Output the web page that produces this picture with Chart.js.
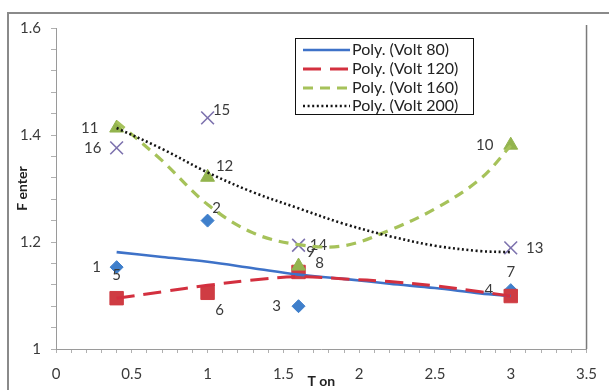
<!DOCTYPE html>
<html>
<head>
<meta charset="utf-8">
<script src="https://cdn.jsdelivr.net/npm/chart.js@4/dist/chart.umd.min.js"></script>
<style>
  html, body { margin: 0; padding: 0; background: #ffffff; }
  canvas { display: block; }
</style>
</head>
<body>
<canvas id="chart" width="609" height="390"></canvas>
<script>
// Measured runs: pulse-on time (T on) against F enter, one series per voltage
const tOn = [0.4, 1, 1.6, 3];
const volt80 = [1.153, 1.24, 1.08, 1.11];
const volt120 = [1.095, 1.105, 1.144, 1.099];
const volt160 = [1.413, 1.321, 1.155, 1.381];
const volt200 = [1.376, 1.432, 1.194, 1.189];

// Run numbers printed next to each point
const runs80 = ['1', '2', '3', '4'];
const runs120 = ['5', '6', '8', '7'];
const runs160 = ['11', '12', '9', '10'];
const runs200 = ['16', '15', '14', '13'];

// Polynomial trend curves as they run across the plot
const trendT = [0.4, 0.7, 1.0, 1.3, 1.6, 1.9, 2.2, 2.5, 2.8, 3.0];
const trend80 = [1.181, 1.172, 1.163, 1.151, 1.139, 1.131, 1.122, 1.114, 1.104, 1.099];
const trend120 = [1.095, 1.107, 1.119, 1.129, 1.135, 1.131, 1.126, 1.118, 1.107, 1.099];
const trend160 = [1.425, 1.352, 1.27, 1.217, 1.195, 1.193, 1.222, 1.262, 1.318, 1.38];
const trend200 = [1.413, 1.374, 1.330, 1.293, 1.263, 1.234, 1.211, 1.193, 1.183, 1.181];

const legendNames = ['Poly. (Volt 80)', 'Poly. (Volt 120)', 'Poly. (Volt 160)', 'Poly. (Volt 200)'];
const xTickLabels = ['0', '0.5', '1', '1.5', '2', '2.5', '3', '3.5'];
const yTickLabels = ['1', '1.2', '1.4', '1.6'];

const FONT = 'Lato, "Open Sans", sans-serif';
const TEXT = '#3a3a3a';

function pairs(xs, ys) { return xs.map((x, i) => ({ x: x, y: ys[i] })); }

function trendSet(name, ys, color, dash, width) {
  return {
    label: name, data: pairs(trendT, ys), showLine: true, pointRadius: 0,
    borderColor: color, backgroundColor: color, borderDash: dash, borderWidth: width,
    tension: 0.35, fill: false, isTrend: true
  };
}
function pointSet(name, ys, ids, style, radius, fill, stroke, bw) {
  return {
    label: name, data: pairs(tOn, ys), showLine: false, runIds: ids,
    pointStyle: style, pointRadius: radius, pointHoverRadius: radius,
    backgroundColor: fill, borderColor: stroke, borderWidth: bw
  };
}

// Trend curves first so they are painted above the markers
const datasets = [
  trendSet(legendNames[3], trend200, '#141414', [2, 2.6], 2.6),
  trendSet(legendNames[2], trend160, '#a6c25a', [10, 7], 3.2),
  trendSet(legendNames[1], trend120, '#d3303f', [18, 9], 3),
  trendSet(legendNames[0], trend80, '#3e72c8', [], 2.6),
  pointSet('Volt 200', volt200, runs200, 'crossRot', 9, '#7d72ae', '#7d72ae', 1.6),
  pointSet('Volt 160', volt160, runs160, 'triangle', 8, '#93b44e', '#93b44e', 1),
  pointSet('Volt 120', volt120, runs120, 'rect', 9.5, '#cf3c43', '#cf3c43', 1),
  pointSet('Volt 80', volt80, runs80, 'rectRot', 6.5, '#3f7fcb', '#3f7fcb', 1)
];

// Where each run number sits relative to its marker
const runLabelOffsets = {
  '1': [-20, 0], '2': [9, -12], '3': [-22, 0], '4': [-22, 0],
  '5': [0, -23], '6': [12, 17], '7': [0, -24], '8': [21, -9],
  '9': [12, -14], '10': [-26, 0], '11': [-27, 0], '12': [17, -11],
  '13': [24, 0], '14': [20, 0], '15': [14, -8], '16': [-24, 0]
};

const decorations = {
  id: 'decorations',
  beforeDraw(chart) {
    const ctx = chart.ctx;
    ctx.save();
    ctx.fillStyle = '#ffffff';
    ctx.fillRect(0, 0, chart.width, chart.height);
    ctx.restore();
  },
  afterDatasetDraw(chart, args) {
    const ds = chart.data.datasets[args.index];
    if (!ds.runIds) return;
    const ctx = chart.ctx;
    ctx.save();
    ctx.font = '15px ' + FONT;
    ctx.fillStyle = TEXT;
    ctx.textAlign = 'center';
    ctx.textBaseline = 'middle';
    args.meta.data.forEach((pt, i) => {
      const id = ds.runIds[i];
      const off = runLabelOffsets[id] || [0, 0];
      ctx.fillText(id, pt.x + off[0], pt.y + off[1]);
    });
    ctx.restore();
  },
  afterDraw(chart) {
    const ctx = chart.ctx;
    const area = chart.chartArea;
    ctx.save();
    // outer frame
    ctx.strokeStyle = '#8a8a8a';
    ctx.lineWidth = 2;
    ctx.beginPath();
    ctx.moveTo(8, chart.height);
    ctx.lineTo(8, 13);
    ctx.lineTo(chart.width, 13);
    ctx.stroke();
    // right edge of the plot area
    ctx.strokeStyle = '#7a7a7a';
    ctx.lineWidth = 1.5;
    ctx.beginPath();
    ctx.moveTo(area.right, 25);
    ctx.lineTo(area.right, area.bottom);
    ctx.stroke();

    // axis titles
    ctx.fillStyle = '#222';
    ctx.font = 'bold 14px ' + FONT;
    ctx.textAlign = 'center';
    ctx.textBaseline = 'middle';
    ctx.fillText('T on', (area.left + area.right) / 2, 381);
    ctx.save();
    ctx.translate(22, (area.top + area.bottom) / 2);
    ctx.rotate(-Math.PI / 2);
    ctx.fillText('F enter', 0, 0);
    ctx.restore();

    // legend for the trend curves
    const box = { x: 295.5, y: 38.5, w: 178, h: 76 };
    ctx.fillStyle = '#ffffff';
    ctx.fillRect(box.x, box.y, box.w, box.h);
    ctx.strokeStyle = '#111';
    ctx.lineWidth = 1;
    ctx.strokeRect(box.x, box.y, box.w, box.h);
    const rows = [50, 69, 88, 106];
    const trends = chart.data.datasets.filter(d => d.isTrend);
    legendNames.forEach((name, i) => {
      const ds = trends.find(d => d.label === name);
      const y = rows[i];
      ctx.save();
      ctx.strokeStyle = ds.borderColor;
      ctx.lineWidth = ds.borderWidth;
      ctx.setLineDash(ds.borderDash);
      ctx.beginPath();
      ctx.moveTo(303, y);
      ctx.lineTo(350, y);
      ctx.stroke();
      ctx.restore();
      ctx.fillStyle = '#222';
      ctx.font = '16px ' + FONT;
      ctx.textAlign = 'left';
      ctx.textBaseline = 'middle';
      ctx.fillText(name, 352, y);
    });
    ctx.restore();
  }
};

function labelFor(list, v) {
  const s = list.find(l => Math.abs(Number(l) - v) < 1e-6);
  return s === undefined ? '' : s;
}

new Chart(document.getElementById('chart'), {
  type: 'scatter',
  data: { datasets: datasets },
  options: {
    responsive: false,
    animation: false,
    devicePixelRatio: 1,
    layout: { padding: { left: 0, top: 28, right: 17, bottom: 0 } },
    plugins: { legend: { display: false }, tooltip: { enabled: false } },
    scales: {
      x: {
        type: 'linear', min: 0, max: 3.5,
        afterBuildTicks(scale) {
          scale.ticks = Array.from({ length: 36 }, (_, i) => ({ value: i / 10 }));
        },
        afterFit(scale) { scale.height = 41; },
        ticks: {
          autoSkip: false, maxRotation: 0, padding: 12, color: TEXT,
          font: { family: FONT, size: 15 },
          callback: v => labelFor(xTickLabels, v)
        },
        grid: { drawOnChartArea: false, drawTicks: true, tickLength: 4, color: '#b0b0b0' },
        border: { display: true, color: '#9a9a9a', width: 1 }
      },
      y: {
        type: 'linear', min: 1, max: 1.6,
        afterBuildTicks(scale) {
          scale.ticks = Array.from({ length: 16 }, (_, i) => ({ value: 1 + i * 0.04 }));
        },
        afterFit(scale) { scale.width = 56; },
        ticks: {
          autoSkip: false, padding: 10, color: TEXT,
          font: { family: FONT, size: 15 },
          callback: v => labelFor(yTickLabels, v)
        },
        grid: { drawOnChartArea: false, drawTicks: true, tickLength: 5, color: '#b0b0b0' },
        border: { display: true, color: '#9a9a9a', width: 1 }
      }
    }
  },
  plugins: [decorations]
});
</script>
</body>
</html>
